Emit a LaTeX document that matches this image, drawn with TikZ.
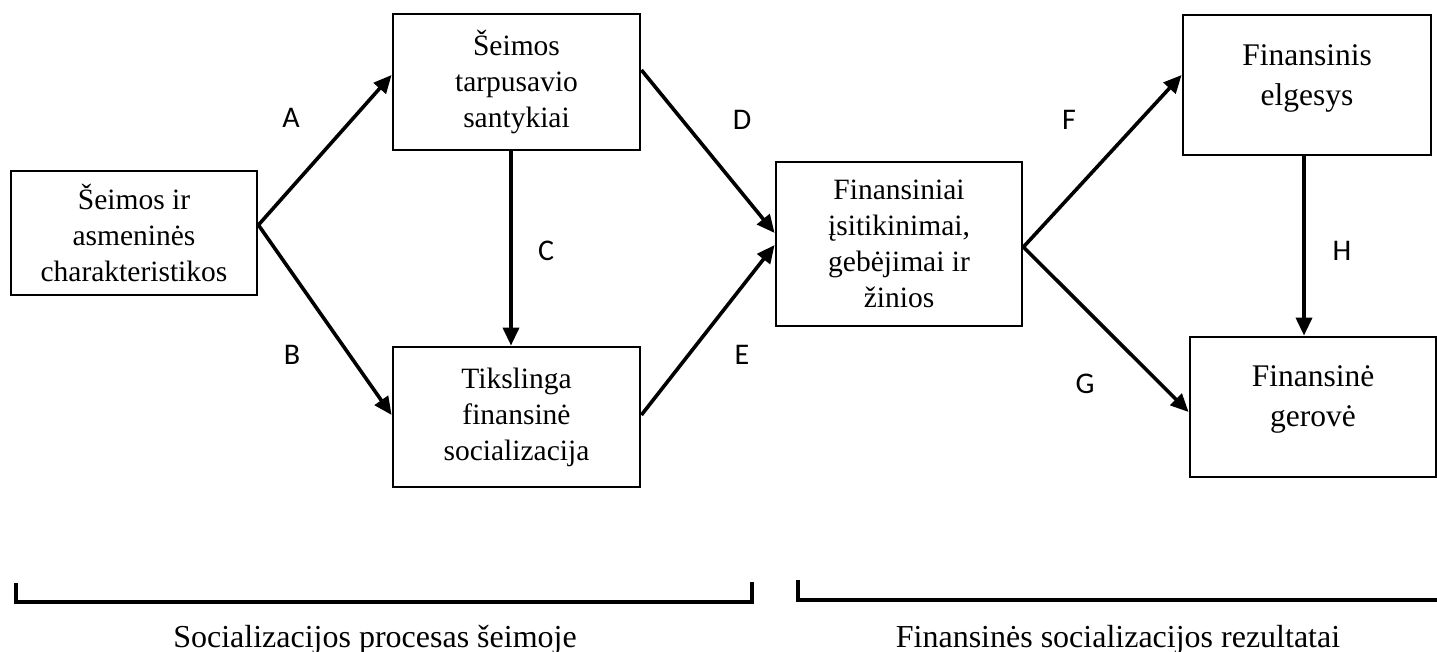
\documentclass[tikz,border=0pt]{standalone}
\usepackage{fontspec}
\setmainfont{Liberation Serif}
\newfontfamily\labfont{Carlito}
\usetikzlibrary{arrows.meta}
\tikzset{
  boxL/.style={draw, line width=2.8pt, minimum width=246pt, inner sep=0pt, align=center,
    font=\fontsize{29.5}{36}\selectfont},
  boxR/.style={draw, line width=2.8pt, minimum width=246pt, inner sep=0pt, align=center,
    font=\fontsize{31.5}{40}\selectfont},
  conn/.style={line width=3.6pt, -{Triangle[length=18pt,width=16pt]}},
  lab/.style={font=\labfont\fontsize{30}{34}\selectfont, inner sep=0pt},
  brace/.style={line width=3.6pt},
  foot/.style={font=\fontsize{32}{36}\selectfont, anchor=base, inner sep=0pt}
}
\begin{document}
\begin{tikzpicture}[x=1pt,y=-1pt]
\useasboundingbox (0,0) rectangle (1437,652);
% boxes
\node[boxL, minimum height=124pt] (b1) at (134,233) {Šeimos ir\\asmeninės\\charakteristikos};
\node[boxL, minimum width=247pt, minimum height=136pt] (b2) at (516.5,82) {Šeimos\\tarpusavio\\santykiai};
\node[boxL, minimum width=247pt, minimum height=140pt] (b3) at (516.5,417) {Tikslinga\\finansinė\\socializacija};
\node[boxL, minimum height=164pt] (b4) at (899,244) {Finansiniai\\įsitikinimai,\\gebėjimai ir\\žinios};
\node[boxR, minimum width=248pt, minimum height=140pt] (b5) at (1307,85) {Finansinis\\elgesys\rule[-20pt]{0pt}{20pt}};
\node[boxR, minimum height=140pt] (b6) at (1313,407) {Finansinė\\gerovė\rule[-22pt]{0pt}{22pt}};
% connectors
\draw[conn] ([yshift=8pt]b1.east) -- ([yshift=7pt]b2.west);
\draw[conn] ([yshift=8pt]b1.east) -- ([yshift=2pt]b3.west);
\draw[conn] ([xshift=-5.5pt]b2.south) -- ([xshift=-5.5pt]b3.north);
\draw[conn] ([yshift=12pt]b2.east) -- ([yshift=11pt]b4.west);
\draw[conn] ([yshift=2pt]b3.east) -- ([yshift=-1pt]b4.west);
\draw[conn] ([yshift=-3pt]b4.east) -- ([yshift=10pt]b5.west);
\draw[conn] ([yshift=-3pt]b4.east) -- ([yshift=-5pt]b6.west);
\draw[conn] ([xshift=-3pt]b5.south) -- ([xshift=-9pt]b6.north);
% labels
\node[lab] (lA) at (291,118) {A};
\node[lab] (lB) at (292,355) {B};
\node[lab] (lC) at (546,251) {C};
\node[lab] (lD) at (742,120) {D};
\node[lab] (lE) at (742,355) {E};
\node[lab] (lF) at (1069,120) {F};
\node[lab] (lG) at (1085,384) {G};
\node[lab] (lH) at (1342,251) {H};
% brackets
\coordinate (p1) at (16,583);
\coordinate (p2) at (16,602);
\coordinate (p3) at (752,602);
\coordinate (p4) at (752,582);
\draw[brace] (p1) -- (p2) -- (p3) -- (p4);
\coordinate (q1) at (798,580);
\coordinate (q2) at (798,600);
\coordinate (q3) at (1437,600);
\draw[brace] (q1) -- (q2) -- (q3);
\node[foot] (t1) at (375,647) {Socializacijos procesas šeimoje};
\node[foot] (t2) at (1118,647) {Finansinės socializacijos rezultatai};
\end{tikzpicture}
\end{document}
